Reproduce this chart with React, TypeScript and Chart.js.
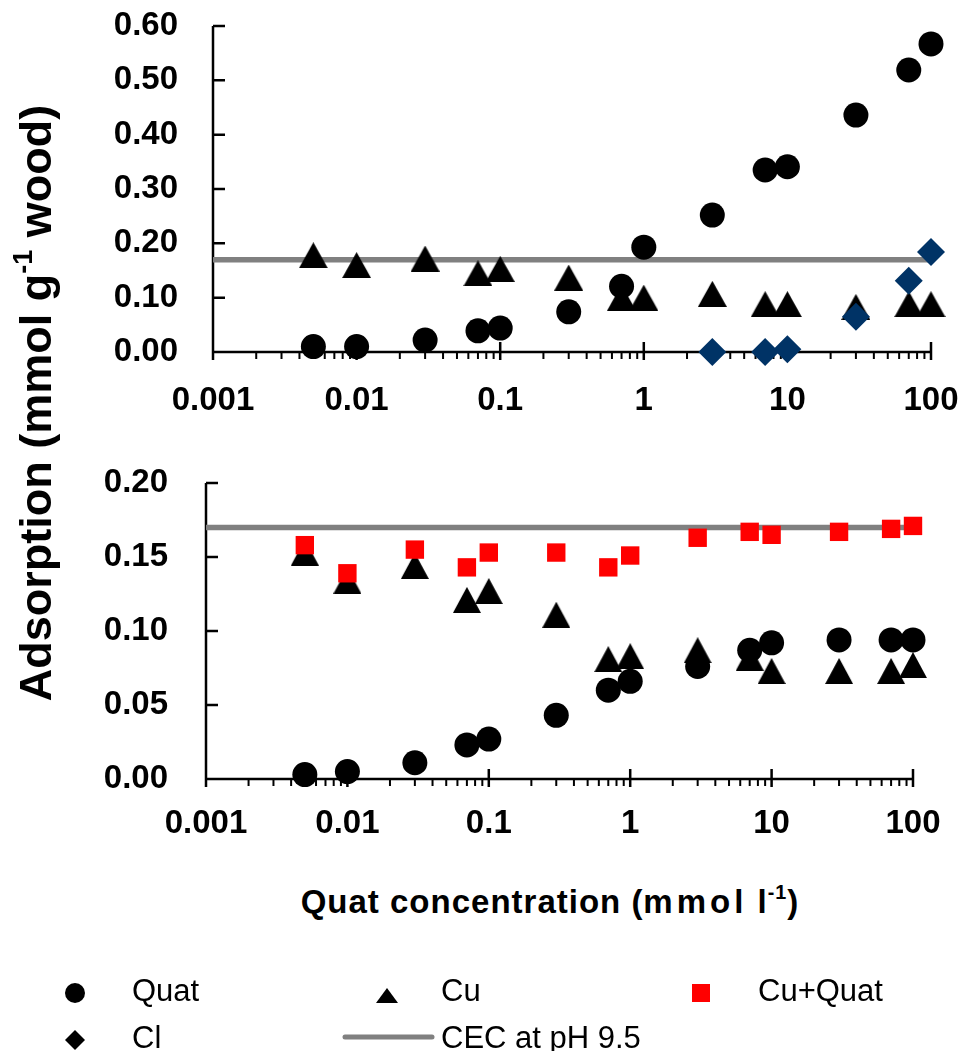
import React, { useEffect, useRef } from 'react';
import { Chart, registerables } from 'chart.js';

Chart.register(...registerables);

// ---------- data ----------
const concentrations = [0.005, 0.01, 0.03, 0.07, 0.1, 0.3, 0.7, 1, 3, 7, 10, 30, 70, 100];
const topQuat = [0.01, 0.01, 0.022, 0.039, 0.044, 0.074, 0.121, 0.193, 0.252, 0.335, 0.341, 0.436, 0.519, 0.567];
const topCu = [0.178, 0.16, 0.172, 0.145, 0.153, 0.137, 0.1, 0.1, 0.107, 0.088, 0.088, 0.083, 0.088, 0.088];
const clConcentrations = [3, 7, 10, 30, 70, 100];
const topCl = [0.0, 0.0, 0.005, 0.065, 0.131, 0.184];
const bottomQuat = [0.003, 0.005, 0.011, 0.023, 0.027, 0.043, 0.06, 0.066, 0.076, 0.087, 0.092, 0.094, 0.094, 0.094];
const bottomCu = [0.153, 0.134, 0.144, 0.121, 0.127, 0.111, 0.081, 0.083, 0.087, 0.082, 0.073, 0.073, 0.073, 0.077];
const bottomCuQuat = [0.158, 0.139, 0.155, 0.143, 0.153, 0.153, 0.143, 0.151, 0.163, 0.167, 0.165, 0.167, 0.169, 0.171];
const cecValue = 0.17;
const cecRange = [0.001, 100];
const xTickValues = [0.001, 0.01, 0.1, 1, 10, 100];
const xTickLabels = ['0.001', '0.01', '0.1', '1', '10', '100'];
const topYTicks = [0, 0.1, 0.2, 0.3, 0.4, 0.5, 0.6];
const bottomYTicks = [0, 0.05, 0.1, 0.15, 0.2];
const legendLabels = ['Quat', 'Cu', 'Cu+Quat', 'Cl', 'CEC at pH 9.5'];

const FONT = "'Liberation Sans', Arial, Helvetica, sans-serif";
const GREY = '#808080';
const NAVY = '#003366';
const RED = '#FF0000';

function pts(xs: number[], ys: number[]) {
  return xs.map((x, i) => ({ x, y: ys[i] }));
}

function makeTriangle(w: number, h: number, color: string) {
  const c = document.createElement('canvas');
  c.width = w;
  c.height = h;
  const g = c.getContext('2d')!;
  g.fillStyle = color;
  g.beginPath();
  g.moveTo(w / 2, 0);
  g.lineTo(w, h);
  g.lineTo(0, h);
  g.closePath();
  g.fill();
  return c;
}

function axesPlugin(yTicks: number[]) {
  return {
    id: 'excelAxes',
    beforeDatasetsDraw(chart: any) {
      const { ctx, scales } = chart;
      const xs = scales.x;
      const ys = scales.y;
      const x0 = xs.getPixelForValue(xTickValues[0]);
      const x1 = xs.getPixelForValue(xTickValues[xTickValues.length - 1]);
      const yb = ys.getPixelForValue(yTicks[0]);
      const yt = ys.getPixelForValue(yTicks[yTicks.length - 1]);
      ctx.save();
      ctx.strokeStyle = '#000';
      ctx.lineWidth = 2.5;
      ctx.beginPath();
      ctx.moveTo(x0, yt);
      ctx.lineTo(x0, yb);
      ctx.lineTo(x1, yb);
      yTicks.forEach((v) => {
        const p = ys.getPixelForValue(v);
        ctx.moveTo(x0, p);
        ctx.lineTo(x0 + 12, p);
      });
      xTickValues.forEach((v) => {
        const p = xs.getPixelForValue(v);
        ctx.moveTo(p, yb - 10);
        ctx.lineTo(p, yb + 8);
      });
      ctx.stroke();
      ctx.lineWidth = 2;
      ctx.beginPath();
      for (let i = 0; i < xTickValues.length - 1; i++) {
        for (let k = 2; k <= 9; k++) {
          const p = xs.getPixelForValue(xTickValues[i] * k);
          ctx.moveTo(p, yb);
          ctx.lineTo(p, yb + 7);
        }
      }
      ctx.stroke();
      ctx.restore();
    },
  };
}

function zeroPad(s: any) {
  s.paddingLeft = 0;
  s.paddingRight = 0;
  s.paddingTop = 0;
  s.paddingBottom = 0;
}

function buildOptions(p: {
  yTicks: number[];
  yMax: number;
  padTop: number;
  padRight: number;
  yWidth: number;
  xHeight: number;
  yPad: number;
  xPad: number;
}) {
  const tickFont = { family: FONT, size: 33, weight: 'bold' as const };
  return {
    responsive: false,
    animation: false as const,
    events: [],
    layout: { padding: { top: p.padTop, right: p.padRight, bottom: 0, left: 0 } },
    plugins: { legend: { display: false }, tooltip: { enabled: false }, title: { display: false } },
    scales: {
      x: {
        type: 'logarithmic' as const,
        min: xTickValues[0],
        max: xTickValues[xTickValues.length - 1],
        grid: { display: false, drawTicks: false },
        border: { display: false },
        afterBuildTicks: (s: any) => {
          s.ticks = xTickValues.map((v) => ({ value: v }));
        },
        afterFit: (s: any) => {
          s.height = p.xHeight;
          zeroPad(s);
        },
        ticks: {
          autoSkip: false,
          maxRotation: 0,
          minRotation: 0,
          padding: p.xPad,
          color: '#000',
          font: tickFont,
          callback: (_v: any, i: number) => xTickLabels[i],
        },
      },
      y: {
        type: 'linear' as const,
        min: 0,
        max: p.yMax,
        grid: { display: false, drawTicks: false },
        border: { display: false },
        afterBuildTicks: (s: any) => {
          s.ticks = p.yTicks.map((v) => ({ value: v }));
        },
        afterFit: (s: any) => {
          s.width = p.yWidth;
          zeroPad(s);
        },
        ticks: {
          padding: p.yPad,
          color: '#000',
          font: tickFont,
          callback: (v: any) => Number(v).toFixed(2),
        },
      },
    },
  };
}

function TopChart() {
  const ref = useRef<HTMLCanvasElement>(null);
  useEffect(() => {
    const tri = makeTriangle(29, 26, '#000');
    const chart = new Chart(ref.current!, {
      type: 'scatter',
      data: {
        datasets: [
          {
            label: legendLabels[3],
            data: pts(clConcentrations, topCl),
            pointStyle: 'rectRot',
            pointRadius: 14,
            pointBackgroundColor: NAVY,
            pointBorderWidth: 0,
            clip: false,
          },
          {
            label: legendLabels[1],
            data: pts(concentrations, topCu),
            pointStyle: tri,
            pointRadius: 14,
            pointBorderWidth: 0,
            clip: false,
          },
          {
            label: legendLabels[0],
            data: pts(concentrations, topQuat),
            pointStyle: 'circle',
            pointRadius: 12.5,
            pointBackgroundColor: '#000',
            pointBorderWidth: 0,
            clip: false,
          },
          {
            label: legendLabels[4],
            data: pts(cecRange, [cecValue, cecValue]),
            showLine: true,
            borderColor: GREY,
            borderWidth: 5.5,
            pointRadius: 0,
            clip: false,
          },
        ],
      } as any,
      options: buildOptions({
        yTicks: topYTicks,
        yMax: 0.6,
        padTop: 26,
        padRight: 33,
        yWidth: 213,
        xHeight: 68,
        yPad: 35,
        xPad: 29,
      }) as any,
      plugins: [axesPlugin(topYTicks)],
    });
    return () => chart.destroy();
  }, []);
  return <canvas ref={ref} width={964} height={420} style={{ position: 'absolute', left: 0, top: 0, display: 'block' }} />;
}

function BottomChart() {
  const ref = useRef<HTMLCanvasElement>(null);
  useEffect(() => {
    const tri = makeTriangle(28, 26, '#000');
    const chart = new Chart(ref.current!, {
      type: 'scatter',
      data: {
        datasets: [
          {
            label: legendLabels[2],
            data: pts(concentrations, bottomCuQuat),
            pointStyle: 'rect',
            pointRadius: 13,
            pointBackgroundColor: RED,
            pointBorderWidth: 0,
            clip: false,
          },
          {
            label: legendLabels[1],
            data: pts(concentrations, bottomCu),
            pointStyle: tri,
            pointRadius: 14,
            pointBorderWidth: 0,
            clip: false,
          },
          {
            label: legendLabels[0],
            data: pts(concentrations, bottomQuat),
            pointStyle: 'circle',
            pointRadius: 12.5,
            pointBackgroundColor: '#000',
            pointBorderWidth: 0,
            clip: false,
          },
          {
            label: legendLabels[4],
            data: pts(cecRange, [cecValue, cecValue]),
            showLine: true,
            borderColor: GREY,
            borderWidth: 5.5,
            pointRadius: 0,
            clip: false,
          },
        ],
      } as any,
      options: buildOptions({
        yTicks: bottomYTicks,
        yMax: 0.2,
        padTop: 43,
        padRight: 51,
        yWidth: 206,
        xHeight: 81,
        yPad: 38,
        xPad: 25,
      }) as any,
      plugins: [axesPlugin(bottomYTicks)],
    });
    return () => chart.destroy();
  }, []);
  return <canvas ref={ref} width={964} height={420} style={{ position: 'absolute', left: 0, top: 440, display: 'block' }} />;
}

const legendText: React.CSSProperties = {
  position: 'absolute',
  fontFamily: FONT,
  fontSize: 31,
  lineHeight: '31px',
  color: '#000',
  whiteSpace: 'nowrap',
};

function Legend() {
  return (
    <>
      <svg width={964} height={1051} style={{ position: 'absolute', left: 0, top: 0, pointerEvents: 'none' }}>
        <circle cx={75} cy={993} r={10} fill="#000" />
        <polygon points="376,1003 387,988 398,1003" fill="#000" />
        <rect x={692} y={984} width={18} height={18} fill={RED} />
        <polygon points="75,1030 85,1040 75,1050 65,1040" fill="#000" />
        <line x1={345} y1={1037} x2={432} y2={1037} stroke={GREY} strokeWidth={5} strokeLinecap="round" />
      </svg>
      <div style={{ ...legendText, left: 132, top: 975 }}>{legendLabels[0]}</div>
      <div style={{ ...legendText, left: 441, top: 975 }}>{legendLabels[1]}</div>
      <div style={{ ...legendText, left: 758, top: 975 }}>{legendLabels[2]}</div>
      <div style={{ ...legendText, left: 132, top: 1022 }}>{legendLabels[3]}</div>
      <div style={{ ...legendText, left: 441, top: 1022 }}>{legendLabels[4]}</div>
    </>
  );
}

export default function App() {
  return (
    <div
      style={{
        position: 'absolute',
        left: 0,
        top: 0,
        width: 964,
        height: 1051,
        background: '#fff',
        overflow: 'hidden',
      }}
    >
      <TopChart />
      <BottomChart />
      <div
        style={{
          position: 'absolute',
          left: 34.5,
          top: 402.5,
          transform: 'translate(-50%, -50%) rotate(-90deg)',
          fontFamily: FONT,
          fontWeight: 'bold',
          fontSize: 45,
          lineHeight: '45px',
          whiteSpace: 'nowrap',
          color: '#000',
        }}
      >
        Adsorption (mmol g<sup style={{ fontSize: '0.6em', lineHeight: 0, verticalAlign: '0.7em' }}>-1</sup> wood)
      </div>
      <div
        style={{
          position: 'absolute',
          left: 550,
          top: 885,
          transform: 'translateX(-50%)',
          fontFamily: FONT,
          fontWeight: 'bold',
          fontSize: 33,
          lineHeight: '33px',
          letterSpacing: 1,
          whiteSpace: 'nowrap',
          color: '#000',
        }}
      >
        Quat concentration (<span style={{ letterSpacing: 4 }}>mmol</span> l
        <sup style={{ fontSize: '0.6em', lineHeight: 0, verticalAlign: '0.7em' }}>-1</sup>)
      </div>
      <Legend />
    </div>
  );
}
